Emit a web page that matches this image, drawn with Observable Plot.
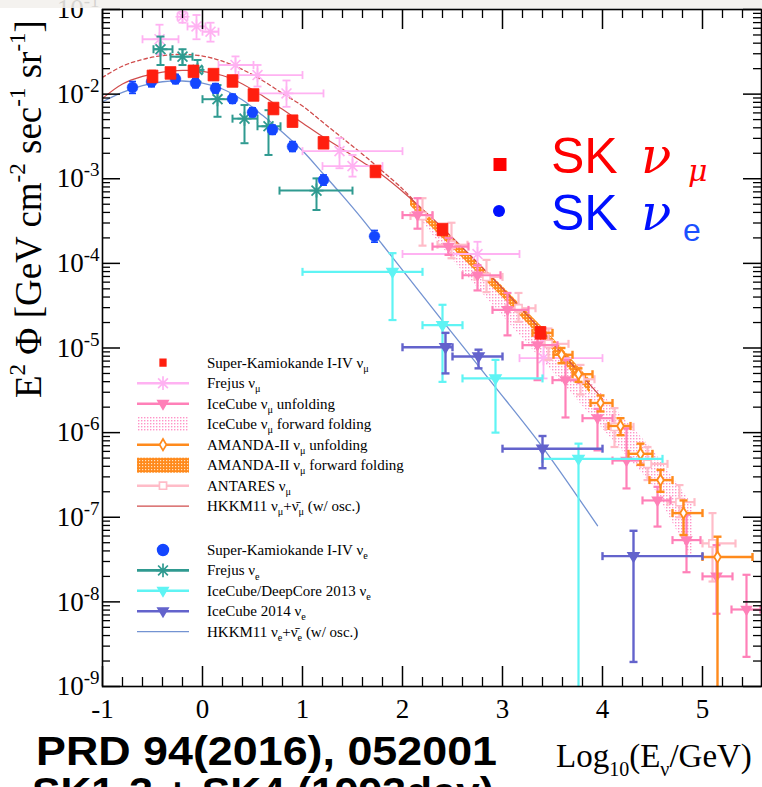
<!DOCTYPE html>
<html><head><meta charset="utf-8">
<script src="https://cdn.jsdelivr.net/npm/d3@7"></script>
<script src="https://cdn.jsdelivr.net/npm/@observablehq/plot@0.6"></script>
<style>
html,body{margin:0;padding:0;background:#fff;}
body{width:762px;height:787px;overflow:hidden;position:relative;}
#chart{position:absolute;left:0;top:0;}
#overlay{position:absolute;left:0;top:0;pointer-events:none;}
</style></head><body>
<svg width="0" height="0" style="position:absolute"><defs>
<pattern id="icffPat" patternUnits="userSpaceOnUse" width="3" height="3"><rect x="0" y="0" width="1.4" height="1.4" fill="#ff94c8"/></pattern>
<pattern id="amffPat" patternUnits="userSpaceOnUse" width="3" height="3"><rect width="3" height="3" fill="#ff8a1c"/><rect x="1" y="1" width="1.2" height="1.2" fill="#ffe2c0"/></pattern>
</defs></svg>
<div id="chart"></div>
<svg id="overlay" width="762" height="787"></svg>
<script>
// ---------------- DATA (x = log10(E/GeV), y = E^2 Phi [GeV cm^-2 s^-1 sr^-1]) ----------------
const skMuX  = [-0.50,-0.32,-0.09,0.11,0.30,0.51,0.71,0.90,1.21,1.73,2.40,3.38];
const skMuY  = [0.0162,0.0178,0.0186,0.0170,0.0143,0.00977,0.00676,0.00479,0.00266,0.00122,0.000251,1.51e-5];
const skMuLo = [0.0138,0.0155,0.0163,0.0150,0.0125,0.0085,0.0059,0.0042,0.00235,0.00108,0.00022,1.30e-5];
const skMuHi = [0.0190,0.0203,0.0211,0.0192,0.0163,0.0112,0.0077,0.0055,0.0030,0.00138,0.000285,1.75e-5];

const skEX  = [-0.70,-0.51,-0.27,-0.07,0.13,0.30,0.50,0.70,0.90,1.21,1.72];
const skEY  = [0.0120,0.0140,0.0151,0.0135,0.0117,0.00881,0.00610,0.00380,0.00240,0.000966,0.000209];
const skELo = [0.0102,0.0122,0.0133,0.0119,0.0103,0.0078,0.0054,0.00335,0.0021,0.00084,0.000178];
const skEHi = [0.0141,0.0160,0.0171,0.0153,0.0133,0.0100,0.0069,0.0043,0.00275,0.00111,0.000245];

const frMuX   = [-0.43,-0.20,-0.06,0.08,0.33,0.55,0.84,1.37,1.50,2.75,3.41];
const frMuXLo = [-0.60,-0.25,-0.15,0.00,0.16,0.36,0.55,1.00,1.20,2.00,3.17];
const frMuXHi = [-0.24,-0.15,0.03,0.16,0.51,1.00,1.21,2.00,1.80,3.17,4.00];
const frMuY   = [0.0445,0.0822,0.0631,0.0547,0.0221,0.0168,0.0102,0.00212,0.00141,0.000129,7.59e-6];
const frMuLo  = [0.0295,0.0698,0.0445,0.0417,0.0166,0.0123,0.00708,0.00133,0.00106,9.3e-5,4.37e-6];
const frMuHi  = [0.0661,0.0940,0.0861,0.0698,0.0279,0.0221,0.0145,0.00302,0.00191,0.00018,1.23e-5];

const frEX   = [-0.42,-0.20,-0.05,0.15,0.42,0.66,1.14];
const frEXLo = [-0.49,-0.32,-0.10,0.00,0.30,0.55,0.77];
const frEXHi = [-0.30,-0.10,0.00,0.30,0.55,0.78,1.50];
const frEY   = [0.0339,0.0277,0.0193,0.00871,0.00513,0.00417,0.000724];
const frELo  = [0.0221,0.0221,0.0140,0.0054,0.00263,0.00191,0.000427];
const frEHi  = [0.0479,0.0339,0.0253,0.0128,0.00743,0.00646,0.00101];

const dcX   = [1.90,2.40,2.93,3.76];
const dcXLo = [1.0,2.2,2.6,3.4];
const dcXHi = [2.2,2.6,3.4,4.6];
const dcY   = [7.94e-5,1.86e-5,4.37e-6,4.9e-7];
const dcLo  = [2.14e-5,3.98e-6,1.0e-6,1e-10];
const dcHi  = [1.32e-4,3.24e-5,7.24e-6,7.41e-7];

const ic14X   = [2.43,2.76,3.40,4.31];
const ic14XLo = [2.0,2.5,3.0,4.0];
const ic14XHi = [2.5,3.0,4.0,5.0];
const ic14Y   = [1.02e-5,7.94e-6,6.46e-7,3.47e-8];
const ic14Lo  = [5.01e-6,5.75e-6,3.8e-7,1.95e-9];
const ic14Hi  = [1.51e-5,9.55e-6,9.12e-7,6.92e-8];

const icUX   = [2.15,2.46,2.75,3.05,3.35,3.63,3.95,4.24,4.55,4.84,5.14,5.44];
const icUXLo = [2.0,2.3,2.6,2.9,3.2,3.5,3.8,4.1,4.4,4.7,5.0,5.29];
const icUXHi = [2.3,2.66,2.98,3.26,3.55,3.76,4.1,4.38,4.68,4.98,5.3,5.58];
const icUY   = [3.72e-4,1.58e-4,7.24e-5,2.82e-5,1.08e-5,4.17e-6,1.48e-6,4.68e-7,1.58e-7,5.37e-8,2.0e-8,8.13e-9];
const icULo  = [2.57e-4,1.26e-4,4.79e-5,1.41e-5,4.17e-6,1.51e-6,6.17e-7,2.19e-7,7.76e-8,2.24e-8,7.24e-9,2.24e-9];
const icUHi  = [5.89e-4,2.0e-4,9.55e-5,4.47e-5,1.37e-5,7.24e-6,1.91e-6,1.12e-6,2.29e-7,1.07e-7,4.68e-8,2.09e-8];

const antX   = [2.20,2.49,2.84,3.16,3.46,3.78,4.12,4.45,4.77,5.10];
const antXLo = [2.08,2.35,2.72,3.03,3.35,3.62,4.03,4.38,4.65,5.0];
const antXHi = [2.30,2.65,3.0,3.33,3.66,3.92,4.31,4.65,4.92,5.33];
const antY   = [3.63e-4,1.66e-4,6.92e-5,2.95e-5,1.12e-5,4.27e-6,1.17e-6,4.27e-7,1.51e-7,4.9e-8];
const antLo  = [1.62e-4,1.15e-4,4.57e-5,2.04e-5,7.24e-6,2.82e-6,6.76e-7,2.75e-7,1.0e-7,1.74e-8];
const antHi  = [5.89e-4,3.02e-4,1.10e-4,4.47e-5,1.70e-5,6.31e-6,1.95e-6,6.76e-7,2.4e-7,1.12e-7];

const amX   = [3.38,3.59,3.76,3.98,4.18,4.38,4.58,4.81,5.15];
const amXLo = [3.30,3.51,3.70,3.88,4.06,4.26,4.47,4.70,5.0];
const amXHi = [3.50,3.70,3.90,4.10,4.28,4.50,4.70,5.0,5.5];
const amY   = [1.51e-5,8.32e-6,4.9e-6,2.24e-6,1.2e-6,5.62e-7,2.75e-7,1.12e-7,3.39e-8];
const amLo  = [1.32e-5,6.61e-6,3.98e-6,1.78e-6,9.33e-7,4.17e-7,2.0e-7,6.17e-8,1e-10];
const amHi  = [1.74e-5,1.0e-5,5.75e-6,2.75e-6,1.48e-6,7.41e-7,3.63e-7,1.58e-7,5.89e-8];

const amffX  = [2.08,2.5,3.0,3.5,3.88];
const amffHi = [6.03e-4,2.0e-4,5.37e-5,1.32e-5,4.17e-6];
const amffLo = [4.79e-4,1.51e-4,3.98e-5,9.55e-6,2.88e-6];

const icffX  = [2.1,2.5,3.0,3.5,4.0,4.5,4.9];
const icffHi = [5.37e-4,1.82e-4,4.79e-5,1.20e-5,2.82e-6,6.31e-7,1.41e-7];
const icffLo = [4.37e-4,1.10e-4,2.40e-5,5.25e-6,1.12e-6,2.40e-7,3.16e-8];

const hkMuX = [-1,-0.8,-0.6,-0.4,-0.2,0,0.2,0.4,0.6,0.8,1.0,1.2,1.4,1.6,1.8,2.0,2.2,2.4,2.8,3.2,3.6,4.0];
const hkMuY = [8.91e-3,1.32e-2,1.62e-2,1.82e-2,1.91e-2,1.86e-2,1.66e-2,1.32e-2,9.55e-3,6.61e-3,4.57e-3,3.16e-3,2.24e-3,1.58e-3,1.10e-3,7.08e-4,4.37e-4,2.63e-4,8.91e-5,2.82e-5,8.51e-6,2.51e-6];

const hkMuNoOscX = [-1,-0.8,-0.6,-0.4,-0.2,0,0.2,0.4,0.6,0.8,1.0,1.2,1.4,1.6,1.8,2.0,2.1];
const hkMuNoOscY = [1.58e-2,2.14e-2,2.57e-2,2.85e-2,2.95e-2,2.82e-2,2.45e-2,1.95e-2,1.45e-2,1.02e-2,7.24e-3,4.68e-3,3.02e-3,1.95e-3,1.23e-3,7.59e-4,5.75e-4];

const hkEX = [-1,-0.8,-0.6,-0.4,-0.2,0,0.2,0.4,0.6,0.8,1.0,1.2,1.4,1.6,1.8,2.0,2.4,2.9,3.4,3.95];
const hkEY = [8.13e-3,1.05e-2,1.26e-2,1.40e-2,1.43e-2,1.35e-2,1.15e-2,8.51e-3,5.62e-3,3.55e-3,2.14e-3,1.17e-3,6.31e-4,3.31e-4,1.66e-4,8.32e-5,2.09e-5,3.80e-6,6.76e-7,7.94e-8];

const xTickLabels = [-1,0,1,2,3,4,5];
const yTickValues = [1e-9,1e-8,1e-7,1e-6,1e-5,1e-4,1e-3,1e-2,1e-1];

// ---------------- COLOURS ----------------
const C = {
  skMu:"#ff1f0f", skE:"#1446ff", frMu:"#ffb2f2", frE:"#2f9a90", icU:"#ff80b8",
  am:"#ff8a1c", ant:"#ffbcc8", hkMu:"#d04c4c", dc:"#5ff4f4", ic14:"#6363cc", hkE:"#7393d2"
};

// ---------------- HELPERS ----------------
const rows = (x, y, lo, hi, xlo, xhi) => x.map((v, i) => ({x: v, y: y[i], lo: lo[i], hi: hi[i], xlo: xlo ? xlo[i] : v, xhi: xhi ? xhi[i] : v}));
const band = (x, lo, hi) => x.map((v, i) => ({x: v, lo: lo[i], hi: hi[i]}));
const pts = (x, y) => x.map((v, i) => ({x: v, y: y[i]}));
const rad = s => Math.sqrt(s / Math.PI);
const hcap = {draw(c, s){ const r = rad(s); c.moveTo(-r,0); c.lineTo(r,0); }};
const vcap = {draw(c, s){ const r = rad(s); c.moveTo(0,-r); c.lineTo(0,r); }};
const star8 = {draw(c, s){ const r = rad(s), d = r*Math.SQRT1_2; c.moveTo(-r,0); c.lineTo(r,0); c.moveTo(0,-r); c.lineTo(0,r); c.moveTo(-d,-d); c.lineTo(d,d); c.moveTo(-d,d); c.lineTo(d,-d); }};
const triDown = {draw(c, s){ const r = rad(s); c.moveTo(-r,-0.62*r); c.lineTo(r,-0.62*r); c.lineTo(0,1.05*r); c.closePath(); }};
const diamond = {draw(c, s){ const r = rad(s); c.moveTo(0,-1.3*r); c.lineTo(0.78*r,0); c.lineTo(0,1.3*r); c.lineTo(-0.78*r,0); c.closePath(); }};
const osq = {draw(c, s){ const r = rad(s); c.rect(-r,-r,2*r,2*r); }};
const sqr = {draw(c, s){ const r = rad(s); c.rect(-r*0.9,-r*1.05,1.8*r,2.1*r); }};

function errBars(data, color, {sw = 2.2, cap = 4, xerr = true} = {}) {
  const o = {stroke: color, strokeWidth: sw, clip: true};
  const m = [
    Plot.ruleX(data, {x: "x", y1: "lo", y2: "hi", ...o}),
    Plot.dot(data, {x: "x", y: "lo", symbol: hcap, r: cap, fill: "none", ...o}),
    Plot.dot(data, {x: "x", y: "hi", symbol: hcap, r: cap, fill: "none", ...o})
  ];
  if (xerr) m.push(
    Plot.ruleY(data, {y: "y", x1: "xlo", x2: "xhi", ...o}),
    Plot.dot(data, {x: "xlo", y: "y", symbol: vcap, r: cap, fill: "none", ...o}),
    Plot.dot(data, {x: "xhi", y: "y", symbol: vcap, r: cap, fill: "none", ...o})
  );
  return m;
}

const skMu = rows(skMuX, skMuY, skMuLo, skMuHi);
const skE = rows(skEX, skEY, skELo, skEHi);
const frMu = rows(frMuX, frMuY, frMuLo, frMuHi, frMuXLo, frMuXHi);
const frE = rows(frEX, frEY, frELo, frEHi, frEXLo, frEXHi);
const dc = rows(dcX, dcY, dcLo, dcHi, dcXLo, dcXHi);
const ic14 = rows(ic14X, ic14Y, ic14Lo, ic14Hi, ic14XLo, ic14XHi);
const icU = rows(icUX, icUY, icULo, icUHi, icUXLo, icUXHi);
const ant = rows(antX, antY, antLo, antHi, antXLo, antXHi);
const am = rows(amX, amY, amLo, amHi, amXLo, amXHi);

// ---------------- LAYOUT ----------------
const W = 762, H = 740, mL = 102, mR = 1, mT = 9, mB = 54;
const plotW = W - mL - mR, plotH = H - mT - mB;
const xMinor = d3.range(-0.8, 5.59, 0.2).filter(v => Math.abs(v - Math.round(v)) > 0.05);
const yMinor = yTickValues.slice(0, -1).flatMap(d => [2,3,4,5,6,7,8,9].map(k => k * d));
const serif = "'Liberation Serif','Times New Roman',serif";
const sans = "'Liberation Sans',Arial,Helvetica,sans-serif";

const svg = Plot.plot({
  width: W, height: H,
  marginLeft: mL, marginRight: mR, marginTop: mT, marginBottom: mB,
  style: {fontFamily: serif, background: "white", color: "black", overflow: "visible"},
  x: {domain: [-1, 5.59]},
  y: {type: "log", domain: [1e-9, 1e-1]},
  marks: [
    Plot.areaY(band(icffX, icffLo, icffHi), {x: "x", y1: "lo", y2: "hi", fill: "url(#icffPat)", clip: true}),
    Plot.areaY(band(amffX, amffLo, amffHi), {x: "x", y1: "lo", y2: "hi", fill: "url(#amffPat)", clip: true}),
    Plot.line(pts(hkMuNoOscX, hkMuNoOscY), {x: "x", y: "y", stroke: C.hkMu, strokeWidth: 1.3, strokeDasharray: "3.5,3", curve: "catmull-rom", clip: true}),
    Plot.line(pts(hkMuX, hkMuY), {x: "x", y: "y", stroke: C.hkMu, strokeWidth: 1.2, curve: "catmull-rom", clip: true}),
    Plot.line(pts(hkEX, hkEY), {x: "x", y: "y", stroke: C.hkE, strokeWidth: 1.3, curve: "catmull-rom", clip: true}),
    ...errBars(frMu, C.frMu, {sw: 1.8}),
    Plot.dot(frMu, {x: "x", y: "y", symbol: star8, r: 7, stroke: C.frMu, strokeWidth: 1.6, fill: "none", clip: true}),
    ...errBars(ant, C.ant, {sw: 2.2}),
    Plot.dot(ant, {x: "x", y: "y", symbol: osq, r: 3.6, stroke: C.ant, strokeWidth: 1.6, fill: "white", clip: true}),
    ...errBars(icU, C.icU, {sw: 2.2}),
    Plot.dot(icU, {x: "x", y: "y", symbol: triDown, r: 5, stroke: C.icU, fill: C.icU, clip: true}),
    ...errBars(am, C.am, {sw: 2.4}),
    Plot.dot(am, {x: "x", y: "y", symbol: diamond, r: 4.3, stroke: C.am, strokeWidth: 1.8, fill: "white", clip: true}),
    ...errBars(dc, C.dc, {sw: 2.2}),
    Plot.dot(dc, {x: "x", y: "y", symbol: triDown, r: 5.5, stroke: C.dc, fill: C.dc, clip: true}),
    ...errBars(ic14, C.ic14, {sw: 2.4}),
    Plot.dot(ic14, {x: "x", y: "y", symbol: triDown, r: 5.5, stroke: C.ic14, fill: C.ic14, clip: true}),
    ...errBars(frE, C.frE, {sw: 2}),
    Plot.dot(frE, {x: "x", y: "y", symbol: star8, r: 7, stroke: C.frE, strokeWidth: 1.8, fill: "none", clip: true}),
    ...errBars(skE, C.skE, {sw: 1.6, cap: 3.5, xerr: false}),
    Plot.dot(skE, {x: "x", y: "y", r: 5.4, fill: C.skE, stroke: C.skE, strokeWidth: 0.5, clip: true}),
    ...errBars(skMu, C.skMu, {sw: 1.6, cap: 3.5, xerr: false}),
    Plot.dot(skMu, {x: "x", y: "y", symbol: sqr, r: 6, fill: C.skMu, stroke: C.skMu, strokeWidth: 0.8, strokeLinejoin: "round", clip: true}),
    // frame and inside ticks (ROOT style)
    Plot.frame({stroke: "black", strokeWidth: 1.6}),
    Plot.tickX(xTickLabels, {x: d => d, insetTop: plotH - 20, stroke: "black", strokeWidth: 1.5}),
    Plot.tickX(xTickLabels, {x: d => d, insetBottom: plotH - 20, stroke: "black", strokeWidth: 1.5}),
    Plot.tickX(xMinor, {x: d => d, insetTop: plotH - 9, stroke: "black", strokeWidth: 1.3}),
    Plot.tickX(xMinor, {x: d => d, insetBottom: plotH - 9, stroke: "black", strokeWidth: 1.3}),
    Plot.tickY(yTickValues, {y: d => d, insetRight: plotW - 18, stroke: "black", strokeWidth: 1.5}),
    Plot.tickY(yTickValues, {y: d => d, insetLeft: plotW - 18, stroke: "black", strokeWidth: 1.5}),
    Plot.tickY(yMinor, {y: d => d, insetRight: plotW - 8, stroke: "black", strokeWidth: 1.3}),
    Plot.tickY(yMinor, {y: d => d, insetLeft: plotW - 8, stroke: "black", strokeWidth: 1.3}),
    Plot.axisX({ticks: xTickLabels, tickSize: 0, tickPadding: 12, tickFormat: d => String(d), fontSize: 27, label: null}),
    Plot.axisY({ticks: yTickValues, tickSize: 0, tickPadding: 3, tickFormat: d => "10^" + Math.round(Math.log10(d)), fontSize: 27, label: null})
  ]
});
document.getElementById("chart").appendChild(svg);

// superscript exponents on the y tick labels
d3.select(svg).selectAll('[aria-label="y-axis tick label"] text').each(function () {
  const parts = this.textContent.split("^");
  const t = d3.select(this).text(null);
  t.append("tspan").text(parts[0]);
  t.append("tspan").attr("font-size", 19).attr("dy", -11).text(parts[1]);
});

// ---------------- OVERLAY (legend, labels, captions) ----------------
const ov = d3.select("#overlay");
function addText(x, y, segs, size, opts = {}) {
  const t = ov.append("text").attr("x", x).attr("y", y).attr("font-size", size)
    .attr("font-family", opts.family || serif).attr("fill", opts.fill || "black");
  if (opts.transform) t.attr("transform", opts.transform).attr("x", 0).attr("y", 0);
  let shift = 0;
  for (const s of segs) {
    if (Array.isArray(s)) {
      const k = s[1] || "sub";
      const fs = s[2] || size * 0.68;
      const d = k === "sub" ? size * 0.28 : -size * 0.42;
      t.append("tspan").attr("font-size", fs).attr("dy", d - shift).text(s[0]);
      shift = d;
    } else {
      const ts = t.append("tspan").text(s);
      if (shift) { ts.attr("dy", -shift); shift = 0; }
    }
  }
  return t;
}
const sym = (type, size) => d3.symbol(type, size)();

// top strip (screenshot border)
ov.append("rect").attr("x", 0).attr("y", 0).attr("width", 762).attr("height", 8).attr("fill", "#f2f0ed").attr("opacity", 0.88);

const legendRows = [
  {y: 362.7, segs: ["Super-Kamiokande I-IV ν", ["μ"]], kind: "mark", type: sqr, color: C.skMu, fill: C.skMu, size: 30},
  {y: 383.2, segs: ["Frejus ν", ["μ"]], kind: "line", type: star8, color: C.frMu, fill: "none", size: 150},
  {y: 403.7, segs: ["IceCube ν", ["μ"], " unfolding"], kind: "line", type: triDown, color: C.icU, fill: C.icU, size: 80},
  {y: 424.2, segs: ["IceCube ν", ["μ"], " forward folding"], kind: "band", fill: "url(#icffPat)"},
  {y: 444.7, segs: ["AMANDA-II ν", ["μ"], " unfolding"], kind: "line", type: diamond, color: C.am, fill: "white", size: 60},
  {y: 465.2, segs: ["AMANDA-II ν", ["μ"], " forward folding"], kind: "band", fill: "url(#amffPat)"},
  {y: 485.7, segs: ["ANTARES ν", ["μ"]], kind: "line", type: osq, color: C.ant, fill: "white", size: 40},
  {y: 506.2, segs: ["HKKM11 ν", ["μ"], "+ν\u0304", ["μ"], " (w/ osc.)"], kind: "thin", color: C.hkMu},
  {y: 550.0, segs: ["Super-Kamiokande I-IV ν", ["e"]], kind: "mark", type: d3.symbolCircle, color: C.skE, fill: C.skE, size: 90},
  {y: 570.4, segs: ["Frejus ν", ["e"]], kind: "line", type: star8, color: C.frE, fill: "none", size: 150},
  {y: 590.8, segs: ["IceCube/DeepCore 2013 ν", ["e"]], kind: "line", type: triDown, color: C.dc, fill: C.dc, size: 80},
  {y: 611.2, segs: ["IceCube 2014 ν", ["e"]], kind: "line", type: triDown, color: C.ic14, fill: C.ic14, size: 80},
  {y: 631.6, segs: ["HKKM11 ν", ["e"], "+ν\u0304", ["e"], " (w/ osc.)"], kind: "thin", color: C.hkE}
];
for (const r of legendRows) {
  if (r.kind === "line" || r.kind === "thin") {
    ov.append("line").attr("x1", 137).attr("x2", 189).attr("y1", r.y).attr("y2", r.y)
      .attr("stroke", r.color).attr("stroke-width", r.kind === "thin" ? 1.3 : 2.6);
  }
  if (r.kind === "band") {
    ov.append("rect").attr("x", 137).attr("y", r.y - 7.5).attr("width", 52).attr("height", 15).attr("fill", r.fill);
  }
  if (r.type) {
    ov.append("path").attr("transform", `translate(163,${r.y})`).attr("d", sym(r.type, r.size))
      .attr("fill", r.fill).attr("stroke", r.color).attr("stroke-width", 1.7);
  }
  addText(207, r.y + 5, r.segs, 15);
}

// big SK labels
const greek = "'DejaVu Serif','Liberation Serif',serif";
ov.append("path").attr("transform", "translate(500,164.5)").attr("d", sym(d3.symbolSquare, 169)).attr("fill", "#ff0000");
ov.append("circle").attr("cx", 499).attr("cy", 211).attr("r", 6).attr("fill", "#0010ff");
addText(551, 173, ["SK"], 50, {family: sans, fill: "#ff0000"});
addText(641, 173, ["ν"], 50, {family: greek, fill: "#ff0000"}).attr("font-style", "italic");
addText(688, 181, ["μ"], 30, {family: greek, fill: "#ff0000"}).attr("font-style", "italic");
addText(551, 230, ["SK"], 50, {family: sans, fill: "#0010ff"});
addText(641, 230, ["ν"], 50, {family: greek, fill: "#0010ff"}).attr("font-style", "italic");
addText(683, 241, ["e"], 32, {family: sans, fill: "#1a50ff"});

// y-axis title (rotated)
addText(0, 0, ["E", ["2", "sup", 23], " Φ [GeV cm", ["-2", "sup", 23], " sec", ["-1", "sup", 23], " sr", ["-1", "sup", 23], "]"], 37,
  {transform: "translate(41,398) rotate(-90)"});

// x-axis title
addText(556, 767, ["Log", ["10", "sub", 20], "(E", ["ν", "sub", 20], "/GeV)"], 33);

// captions
addText(36, 765, ["PRD 94(2016), 052001"], 40, {family: sans}).attr("font-weight", "bold")
  .attr("textLength", 461).attr("lengthAdjust", "spacingAndGlyphs");
addText(32, 806, ["SK1-3 + SK4 (1993day)"], 40, {family: sans}).attr("font-weight", "bold")
  .attr("textLength", 462).attr("lengthAdjust", "spacingAndGlyphs");
</script>
</body></html>
